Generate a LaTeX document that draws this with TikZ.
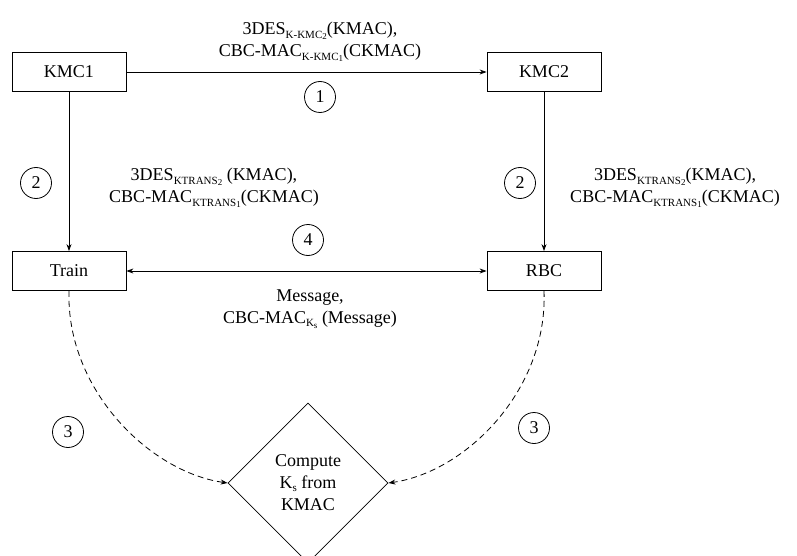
\documentclass[tikz,border=0pt]{standalone}
\usepackage{fontspec}
\setmainfont{Liberation Serif}
\usetikzlibrary{arrows.meta,shapes.geometric}

% small subscripts in the style of the key names
\newcommand\keysub[2]{\raisebox{-0.45ex}{\fontsize{11}{11}\selectfont #1\raisebox{-0.3ex}{\fontsize{9}{9}\selectfont #2}}}
\newcommand\ksess{K\raisebox{-0.35ex}{\fontsize{11}{11}\selectfont s}}

\begin{document}
\begin{tikzpicture}[x=1pt,y=-1pt,
  every node/.style={font=\fontsize{18}{22}\selectfont},
  unit/.style={draw,line width=0.8pt,minimum width=114pt,minimum height=39pt,inner sep=0pt},
  stepmark/.style={draw,circle,line width=0.8pt,minimum size=31pt,inner sep=0pt},
  msg/.style={align=center,inner sep=0pt},
  link/.style={line width=0.8pt,-{Stealth[length=7pt,width=5pt]}},
  both/.style={line width=0.8pt,{Stealth[length=7pt,width=5pt]}-{Stealth[length=7pt,width=5pt]}},
  derive/.style={line width=0.8pt,dash pattern=on 6pt off 4pt,-{Stealth[length=7pt,width=5pt]}}
]
\useasboundingbox (0,0) rectangle (797,556);

% entities
\node[unit] (kmc1)  at (69,72)  {KMC1};
\node[unit] (kmc2)  at (544,72) {KMC2};
\node[unit] (train) at (69,271) {Train};
\node[unit] (rbc)   at (544,271) {RBC};
\node[draw,diamond,line width=0.8pt,minimum width=160pt,minimum height=160pt,inner sep=0pt,align=center]
  (comp) at (308,483) {Compute\\\ksess{} from\\KMAC};

% key transport between the KMCs
\draw[link] (kmc1.east) -- (kmc2.west);
\node[msg] (lab1) at (320,42) {3DES\keysub{K-KMC}{2}(KMAC),\\CBC-MAC\keysub{K-KMC}{1}(CKMAC)};
\node[stepmark] (s1) at (320,97) {1};

% key transport to train and RBC
\draw[link] (kmc1.south) -- (train.north);
\draw[link] (kmc2.south) -- (rbc.north);
\node[stepmark] (s2a) at (36,183) {2};
\node[stepmark] (s2b) at (520,183) {2};
\node[msg] (lab2a) at (214,188) {3DES\keysub{KTRANS}{2} (KMAC),\\CBC-MAC\keysub{KTRANS}{1}(CKMAC)};
\node[msg] (lab2b) at (675,188) {3DES\keysub{KTRANS}{2}(KMAC),\\CBC-MAC\keysub{KTRANS}{1}(CKMAC)};

% session messages
\draw[both] (train.east) -- (rbc.west);
\node[stepmark] (s4) at (308,240) {4};
\node[msg] (lab4) at (310,309) {Message,\\CBC-MAC\keysub{K}{s} (Message)};

% session key derivation
\draw[derive] (train.south) .. controls (66,390) and (150,472) .. (comp.west);
\draw[derive] (rbc.south) .. controls (548,390) and (466,472) .. (comp.east);
\node[stepmark] (s3a) at (68,432) {3};
\node[stepmark] (s3b) at (534,428) {3};
\end{tikzpicture}
\end{document}
